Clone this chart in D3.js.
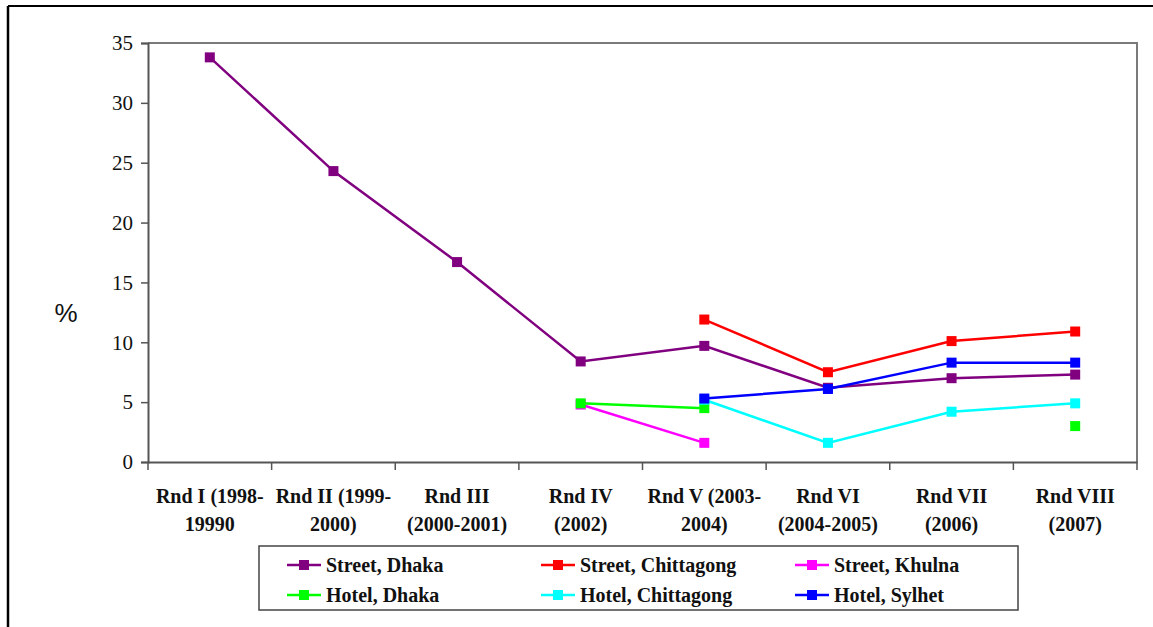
<!DOCTYPE html>
<html>
<head>
<meta charset="utf-8">
<script src="https://cdn.jsdelivr.net/npm/d3@7"></script>
<style>
  html, body { margin: 0; padding: 0; background: #fff; }
  svg { display: block; }
  svg text.serif { font-family: "Liberation Serif", "Times New Roman", Times, "DejaVu Serif", serif; }
  svg text.sans { font-family: "Liberation Sans", Arial, sans-serif; }
</style>
</head>
<body>
<svg id="chart" width="1153" height="627"></svg>
<script>
// Survey rounds (two-line category labels)
const categories = ["R1", "R2", "R3", "R4", "R5", "R6", "R7", "R8"];
const categoryLines = [
  ["Rnd I (1998-", "19990"],
  ["Rnd II (1999-", "2000)"],
  ["Rnd III", "(2000-2001)"],
  ["Rnd IV", "(2002)"],
  ["Rnd V (2003-", "2004)"],
  ["Rnd VI", "(2004-2005)"],
  ["Rnd VII", "(2006)"],
  ["Rnd VIII", "(2007)"]
];
const yTicks = [0, 5, 10, 15, 20, 25, 30, 35];

// Percentages per round; null = not surveyed
const streetDhaka       = [33.8, 24.3, 16.7, 8.4, 9.7, 6.2, 7.0, 7.3];
const streetChittagong  = [null, null, null, null, 11.9, 7.5, 10.1, 10.9];
const streetKhulna      = [null, null, null, 4.8, 1.6, null, null, null];
const hotelDhaka        = [null, null, null, 4.9, 4.5, null, null, 3.0];
const hotelChittagong   = [null, null, null, null, 5.2, 1.6, 4.2, 4.9];
const hotelSylhet       = [null, null, null, null, 5.3, 6.1, 8.3, 8.3];

const seriesNames  = ["Street, Dhaka", "Street, Chittagong", "Street, Khulna",
                      "Hotel, Dhaka", "Hotel, Chittagong", "Hotel, Sylhet"];
const seriesValues = [streetDhaka, streetChittagong, streetKhulna,
                      hotelDhaka, hotelChittagong, hotelSylhet];
const seriesColors = ["#800080", "#ff0000", "#ff00ff", "#00ff00", "#00ffff", "#0000ff"];

const svg = d3.select("#chart");

// outer frame (top and left edges)
svg.append("line").attr("x1", 8).attr("x2", 1153).attr("y1", 6).attr("y2", 6)
  .attr("stroke", "#000").attr("stroke-width", 2);
svg.append("line").attr("x1", 8).attr("x2", 8).attr("y1", 6).attr("y2", 627)
  .attr("stroke", "#000").attr("stroke-width", 2.5);

const plot = { left: 148, right: 1137, top: 43, bottom: 462 };

const x = d3.scaleBand().domain(categories).range([plot.left, plot.right]).padding(0);
const y = d3.scaleLinear().domain([0, 35]).range([plot.bottom, plot.top]);

// plot area border (top and right)
svg.append("path")
  .attr("d", `M${plot.left},${plot.top}H${plot.right}V${plot.bottom}`)
  .attr("fill", "none").attr("stroke", "#7a7a7a").attr("stroke-width", 2);

// y axis
const yAxis = svg.append("g")
  .attr("transform", `translate(${plot.left},0)`)
  .call(d3.axisLeft(y).tickValues(yTicks).tickSize(7).tickPadding(8));
yAxis.attr("font-family", null);
yAxis.select(".domain").attr("stroke", "#555").attr("stroke-width", 2);
yAxis.selectAll(".tick line").attr("stroke", "#555").attr("stroke-width", 1.5);
yAxis.selectAll(".tick text")
  .attr("class", "serif").style("font-size", "21px").attr("fill", "#111");

// x axis
const xAxis = svg.append("g")
  .attr("transform", `translate(0,${plot.bottom})`)
  .call(d3.axisBottom(x).tickSize(0).tickFormat(() => ""));
xAxis.select(".domain").attr("stroke", "#555").attr("stroke-width", 2);
xAxis.selectAll(".tick").remove();

// category boundary ticks
const boundaries = categories.map(c => x(c)).concat([x(categories[categories.length - 1]) + x.bandwidth()]);
svg.append("g").selectAll("line").data(boundaries).join("line")
  .attr("x1", d => d).attr("x2", d => d)
  .attr("y1", plot.bottom).attr("y2", plot.bottom + 8)
  .attr("stroke", "#555").attr("stroke-width", 1.5);

// category labels
const labels = svg.append("g");
categories.forEach((c, i) => {
  const t = labels.append("text")
    .attr("class", "serif")
    .attr("x", x(c) + x.bandwidth() / 2)
    .attr("y", 503)
    .attr("text-anchor", "middle")
    .style("font-size", "20px").style("font-weight", "bold")
    .attr("fill", "#111");
  categoryLines[i].forEach((line, k) => {
    t.append("tspan").attr("x", x(c) + x.bandwidth() / 2)
      .attr("dy", k === 0 ? 0 : 28).text(line);
  });
});

// y axis title
svg.append("text").attr("class", "sans").attr("x", 66).attr("y", 322)
  .attr("text-anchor", "middle")
  .style("font-size", "26px").attr("fill", "#111").text("%");

// series lines and markers
const cx = c => x(c) + x.bandwidth() / 2;
const line = d3.line()
  .defined(d => d.v !== null)
  .x(d => cx(d.c))
  .y(d => y(d.v));

const ms = 10;
seriesValues.forEach((vals, s) => {
  const pts = vals.map((v, i) => ({ c: categories[i], v }));
  const g = svg.append("g");
  g.append("path").datum(pts)
    .attr("d", line)
    .attr("fill", "none")
    .attr("stroke", seriesColors[s])
    .attr("stroke-width", 2.5);
  g.selectAll("rect").data(pts.filter(d => d.v !== null)).join("rect")
    .attr("x", d => cx(d.c) - ms / 2)
    .attr("y", d => y(d.v) - ms / 2)
    .attr("width", ms).attr("height", ms)
    .attr("fill", seriesColors[s]);
});

// legend
const legend = svg.append("g");
legend.append("rect")
  .attr("x", 259).attr("y", 546).attr("width", 759).attr("height", 64)
  .attr("fill", "#fff").attr("stroke", "#444").attr("stroke-width", 1.5);
seriesNames.forEach((name, i) => {
  const col = i % 3, row = Math.floor(i / 3);
  const lx = 287 + col * 254;
  const ly = 565 + row * 30;
  legend.append("line")
    .attr("x1", lx).attr("x2", lx + 34).attr("y1", ly).attr("y2", ly)
    .attr("stroke", seriesColors[i]).attr("stroke-width", 2.5);
  legend.append("rect")
    .attr("x", lx + 17 - ms / 2).attr("y", ly - ms / 2)
    .attr("width", ms).attr("height", ms).attr("fill", seriesColors[i]);
  legend.append("text")
    .attr("class", "serif")
    .attr("x", lx + 39).attr("y", ly + 7)
    .style("font-size", "20px").style("font-weight", "bold")
    .attr("fill", "#111").text(name);
});
</script>
</body>
</html>
